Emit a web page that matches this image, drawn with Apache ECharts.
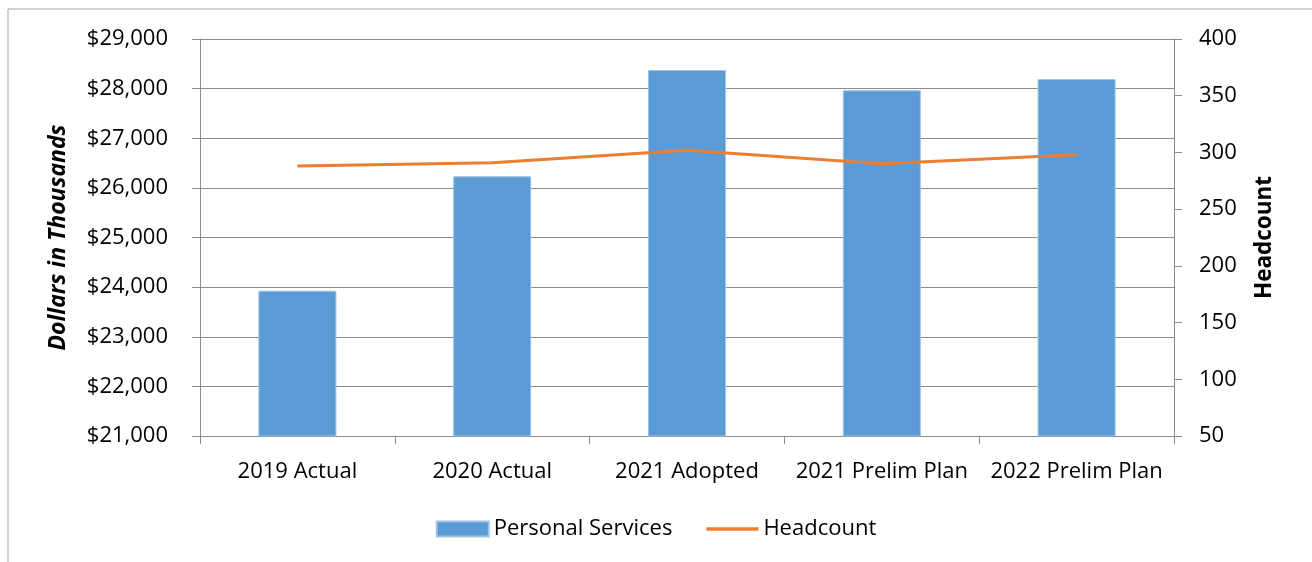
<!DOCTYPE html>
<html>
<head>
<meta charset="utf-8">
<script src="https://cdn.jsdelivr.net/npm/echarts@6/dist/echarts.min.js"></script>
<style>
html,body{margin:0;padding:0;background:#fff;}
#chart{width:1312px;height:562px;}
</style>
</head>
<body>
<div id="chart"></div>
<script>
var categories = ['2019 Actual', '2020 Actual', '2021 Adopted', '2021 Prelim Plan', '2022 Prelim Plan'];
var personalServices = [23928, 26233, 28375, 27966, 28194];
var headcount = [288, 291, 302, 290, 298];
var dollarTicks = [21000, 29000, 1000];
var headTicks = [50, 400, 50];

var font = '"Open Sans", "Noto Sans", sans-serif';
var axisGray = '#8c8c8c';

var chart = echarts.init(document.getElementById('chart'));
chart.setOption({
	animation: false,
	textStyle: { fontFamily: font },
	graphic: [{
		type: 'rect',
		shape: { x: 8, y: 9, width: 1320, height: 570 },
		style: { fill: 'none', stroke: '#a6a6a6', lineWidth: 1 },
		silent: true
	}],
	grid: { left: 200, right: 138, top: 39, bottom: 126 },
	legend: {
		bottom: 17,
		left: 'center',
		itemGap: 34,
		itemWidth: 52,
		itemHeight: 15,
		textStyle: { fontSize: 22, color: '#000', fontFamily: font },
		data: [
			{ name: 'Personal Services', icon: 'rect' },
			{ name: 'Headcount', icon: 'path://M0,0 L52,0 L52,3.5 L0,3.5 Z' }
		]
	},
	xAxis: {
		type: 'category',
		data: categories,
		axisLine: { lineStyle: { color: axisGray } },
		axisTick: { show: true, length: 8, alignWithLabel: false, lineStyle: { color: axisGray } },
		axisLabel: { color: '#000', fontSize: 22, margin: 25, interval: 0 }
	},
	yAxis: [{
		type: 'value',
		min: dollarTicks[0],
		max: dollarTicks[1],
		interval: dollarTicks[2],
		name: 'Dollars in Thousands',
		nameLocation: 'middle',
		nameGap: 130,
		nameTextStyle: { fontSize: 23, fontWeight: 'bold', fontStyle: 'italic', color: '#000' },
		axisLine: { show: true, lineStyle: { color: axisGray } },
		axisTick: { show: true, length: 8, lineStyle: { color: axisGray } },
		axisLabel: {
			color: '#000', fontSize: 22, margin: 32,
			formatter: function (v) { return '$' + v.toLocaleString('en-US'); }
		},
		splitLine: { lineStyle: { color: axisGray } }
	}, {
		type: 'value',
		min: headTicks[0],
		max: headTicks[1],
		interval: headTicks[2],
		name: 'Headcount',
		nameLocation: 'middle',
		nameGap: 79,
		nameRotate: 90,
		nameTextStyle: { fontSize: 22.5, fontWeight: 'bold', color: '#000' },
		axisLine: { show: true, lineStyle: { color: axisGray } },
		axisTick: { show: true, length: 8, lineStyle: { color: axisGray } },
		axisLabel: { color: '#000', fontSize: 22, margin: 25 },
		splitLine: { show: false }
	}],
	series: [{
		name: 'Personal Services',
		type: 'bar',
		data: personalServices,
		barWidth: 78,
		itemStyle: { color: '#5b9bd5', borderColor: '#9dc3e6', borderWidth: 1 }
	}, {
		name: 'Headcount',
		type: 'line',
		yAxisIndex: 1,
		data: headcount,
		symbol: 'none',
		lineStyle: { color: '#ed7d31', width: 3 },
		itemStyle: { color: '#ed7d31' }
	}]
});
</script>
</body>
</html>
